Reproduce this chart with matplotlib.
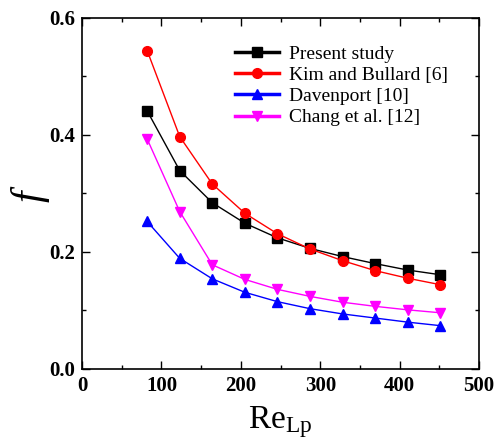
import matplotlib
matplotlib.use("Agg")
import matplotlib.pyplot as plt
from matplotlib.lines import Line2D

plt.rcParams['font.family'] = ['Liberation Serif', 'DejaVu Serif']
plt.rcParams['mathtext.fontset'] = 'custom'
plt.rcParams['mathtext.rm'] = 'Liberation Serif'
plt.rcParams['mathtext.it'] = 'Liberation Serif:italic'
plt.rcParams['mathtext.bf'] = 'Liberation Serif:bold'

re_lp = [82, 123, 164, 205, 246, 287, 328, 369, 410, 451]
present = [0.441, 0.339, 0.284, 0.249, 0.224, 0.206, 0.192, 0.180, 0.169, 0.161]
kim = [0.544, 0.397, 0.316, 0.266, 0.231, 0.205, 0.185, 0.168, 0.155, 0.144]
davenport = [0.252, 0.189, 0.154, 0.131, 0.115, 0.103, 0.094, 0.087, 0.080, 0.074]
chang = [0.393, 0.269, 0.178, 0.153, 0.136, 0.124, 0.114, 0.107, 0.101, 0.096]

labels = ["Present study", "Kim and Bullard [6]", "Davenport [10]", "Chang et al. [12]"]
series = [present, kim, davenport, chang]
colors = ["black", "red", "blue", "magenta"]
markers = ["s", "o", "^", "v"]

fig = plt.figure(figsize=(4.94, 4.44), dpi=100)
ax = fig.add_axes([0.166, 0.169, 0.804, 0.791])

handles = []
for ys, c, m, lab in zip(series, colors, markers, labels):
    ax.plot(re_lp, ys, color=c, marker=m, markersize=7, linewidth=1, label=lab)
    handles.append(Line2D([], [], color=c, marker=m, markersize=7, linewidth=2.5, label=lab))

ax.set_xlim(0, 500)
ax.set_ylim(0.0, 0.6)
ax.set_xticks([0, 100, 200, 300, 400, 500])
ax.set_xticks([50, 150, 250, 350, 450], minor=True)
ax.set_yticks([0.0, 0.2, 0.4, 0.6])
ax.set_yticks([0.1, 0.3, 0.5], minor=True)
ax.set_yticklabels(["0.0", "0.2", "0.4", "0.6"])
ax.tick_params(which='both', direction='in', top=True, right=True, width=1)
ax.tick_params(which='major', length=6, labelsize=15, pad=5)
ax.tick_params(which='minor', length=3)
for lab in ax.get_xticklabels() + ax.get_yticklabels():
    lab.set_fontweight('bold')
for s in ax.spines.values():
    s.set_linewidth(1.2)

ax.set_xlabel(r"$\mathrm{Re}_{\mathrm{Lp}}$", fontsize=24, labelpad=6)
ax.set_ylabel(r"$f$", fontsize=30, labelpad=-2)

ax.legend(handles=handles, loc='upper left', bbox_to_anchor=(0.35, 0.96),
          frameon=False, fontsize=14, handlelength=2.3, handletextpad=0.5,
          labelspacing=0.18, borderaxespad=0.3)

fig.savefig("out.png", dpi=100)
